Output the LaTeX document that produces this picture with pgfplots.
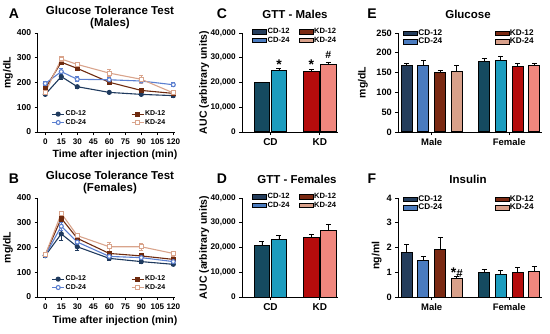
\documentclass[border=0pt]{standalone}
\usepackage{fontspec}
\setmainfont{Liberation Sans}
\usepackage{pgfplots}
\pgfplotsset{compat=1.18}
\definecolor{ca}{HTML}{243D5C}
\definecolor{cb}{HTML}{4A7BBF}
\definecolor{ka}{HTML}{7A2912}
\definecolor{kb}{HTML}{D8A08A}
\definecolor{cc}{HTML}{154A60}
\definecolor{cd}{HTML}{1C9CBE}
\definecolor{kc}{HTML}{B50C0C}
\definecolor{kd}{HTML}{F0877E}
\definecolor{la}{HTML}{1F3A5E}
\definecolor{lb}{HTML}{5B7FD0}
\definecolor{lc}{HTML}{6E2A0E}
\definecolor{ld}{HTML}{D9A48C}
\pgfplotsset{
  gp/.style={
    scale only axis, clip=false,
    axis lines=left, axis line style={-, line width=0.9pt},
    tick align=outside, major tick length=3pt,
    tick style={black, line width=0.9pt},
    ymin=0,
    /pgf/number format/assume math mode=true,
    legend columns=2,
    legend style={draw=none, fill=none, inner xsep=0pt, inner ysep=0pt, anchor=north west,
      nodes={inner sep=1pt}},
    label style={font=\bfseries\fontsize{10.5}{12}\selectfont},
  },
  linep/.style={gp, width=137.3pt, height=99pt, xmin=-7.1, xmax=121.6, ymax=400,
    xtick={0,15,...,120}, ytick={0,100,...,400},
    ticklabel style={font=\bfseries\fontsize{8.6}{10}\selectfont},
    xticklabel style={inner xsep=0pt, font=\bfseries\fontsize{8.1}{10}\selectfont},
    xlabel={Time after injection (min)}, ylabel={mg/dL},
    legend style={at={(0.1,0.225)}, font=\bfseries\fontsize{7}{7.5}\selectfont,
      /tikz/every even column/.append style={column sep=44pt}},
    legend image code/.code={\draw[mark repeat=2, mark phase=2, #1] plot coordinates {(0pt,0pt) (6pt,0pt) (12pt,0pt)};},
    every axis plot/.append style={line width=1.1pt, mark size=2pt,
      /pgfplots/error bars/error bar style={line width=0.7pt},
      /pgfplots/error bars/error mark options={rotate=90, mark size=2pt, line width=0.7pt}},
  },
  barleg/.style={legend image code/.code={\draw[#1] (0pt,-2.3pt) rectangle (14pt,2.3pt);}},
  barp/.style={ybar, bar shift=0pt, draw=black, line width=1pt, forget plot,
    /pgfplots/error bars/y dir=plus, /pgfplots/error bars/y explicit,
    /pgfplots/error bars/error bar style={line width=0.8pt, black},
    /pgfplots/error bars/error mark options={rotate=90, mark size=2.5pt, line width=0.8pt, black}},
  aucp/.style={gp, width=95.4pt, height=99pt, xmin=0.43, xmax=2.36, ymax=40000,
    xtick={1,2}, xticklabels={CD,KD}, ytick={0,10000,20000,30000,40000},
    scaled y ticks=false,
    yticklabel style={font=\bfseries\fontsize{8.2}{9}\selectfont, /pgf/number format/.cd, fixed, 1000 sep={,}},
    xticklabel style={font=\bfseries\fontsize{10}{11}\selectfont},
    ylabel={AUC (arbitrary units)},
    ylabel style={at={(axis description cs:-0.40,0.5)}, anchor=center},
    barleg, bar width=0.31,
    legend style={at={(0.10,1.06)}, font=\bfseries\fontsize{7.6}{8}\selectfont,
      /tikz/every even column/.append style={column sep=8pt}},
  },
  gip/.style={gp, width=143.4pt, height=99pt, xmin=0.569, xmax=2.419,
    xtick={1,2}, xticklabels={Male,Female},
    yticklabel style={font=\bfseries\fontsize{9.2}{10}\selectfont},
    xticklabel style={font=\bfseries\fontsize{9.5}{10}\selectfont},
    barleg, bar width=0.14,
    legend style={at={(0.033,1.04)}, font=\bfseries\fontsize{8.2}{9}\selectfont,
      nodes={inner sep=0.6pt},
      /tikz/every even column/.append style={column sep=52pt}},
  },
}
\begin{document}
\begin{tikzpicture}
\path[use as bounding box] (0,0) rectangle (550pt,333pt);
% ---------- A ----------
\begin{axis}[linep, at={(37.7pt,201pt)}, anchor=south west,
  ylabel style={at={(axis description cs:-0.216,0.6)}, anchor=center},
  xlabel style={at={(axis description cs:0.563,-0.232)}, anchor=center}]
\addplot[la, mark=*, error bars/.cd, y dir=both, y explicit] coordinates {
 (0,152) +- (0,5) (15,224) +- (0,10) (30,183) +- (0,6) (60,160) +- (0,5) (90,152) +- (0,5) (120,147) +- (0,5)};
\addlegendentry{CD-12}
\addplot[lc, mark=square*, error bars/.cd, y dir=both, y explicit] coordinates {
 (0,176) +- (0,6) (15,282) +- (0,10) (30,257) +- (0,8) (60,201) +- (0,10) (90,168) +- (0,8) (120,156) +- (0,6)};
\addlegendentry{KD-12}
\addplot[lb, mark=*, mark options={fill=white}, error bars/.cd, y dir=both, y explicit] coordinates {
 (0,196) +- (0,8) (15,244) +- (0,12) (30,213) +- (0,10) (60,211) +- (0,8) (90,206) +- (0,8) (120,191) +- (0,8)};
\addlegendentry{CD-24}
\addplot[ld, mark=square*, mark options={fill=white}, error bars/.cd, y dir=both, y explicit] coordinates {
 (0,160) +- (0,6) (15,295) +- (0,10) (30,273) +- (0,10) (60,238) +- (0,15) (90,213) +- (0,15) (120,158) +- (0,6)};
\addlegendentry{KD-24}
\end{axis}
% ---------- B ----------
\begin{axis}[linep, at={(37.7pt,36pt)}, anchor=south west,
  ylabel style={at={(axis description cs:-0.216,0.5)}, anchor=center},
  xlabel style={at={(axis description cs:0.563,-0.242)}, anchor=center}]
\addplot[la, mark=*, error bars/.cd, y dir=both, y explicit] coordinates {
 (0,167) +- (0,5) (15,255) +- (0,25) (30,203) +- (0,15) (60,156) +- (0,8) (90,143) +- (0,6) (120,132) +- (0,6)};
\addlegendentry{CD-12}
\addplot[lc, mark=square*, error bars/.cd, y dir=both, y explicit] coordinates {
 (0,170) +- (0,5) (15,318) +- (0,12) (30,237) +- (0,10) (60,176) +- (0,8) (90,166) +- (0,8) (120,152) +- (0,6)};
\addlegendentry{KD-12}
\addplot[lb, mark=*, mark options={fill=white}, error bars/.cd, y dir=both, y explicit] coordinates {
 (0,168) +- (0,5) (15,286) +- (0,15) (30,222) +- (0,10) (60,164) +- (0,8) (90,159) +- (0,8) (120,143) +- (0,6)};
\addlegendentry{CD-24}
\addplot[ld, mark=square*, mark options={fill=white}, error bars/.cd, y dir=both, y explicit] coordinates {
 (0,170) +- (0,5) (15,338) +- (0,10) (30,248) +- (0,10) (60,203) +- (0,18) (90,203) +- (0,15) (120,176) +- (0,10)};
\addlegendentry{KD-24}
\end{axis}
% ---------- C ----------
\begin{axis}[aucp, at={(242.3pt,201pt)}, anchor=south west]
\addlegendimage{fill=ca, draw=black, line width=0.6pt}\addlegendentry{CD-12}
\addlegendimage{fill=ka, draw=black, line width=0.6pt}\addlegendentry{KD-12}
\addlegendimage{fill=cb, draw=black, line width=0.6pt}\addlegendentry{CD-24}
\addlegendimage{fill=kb, draw=black, line width=0.6pt}\addlegendentry{KD-24}
\addplot[barp, fill=cc] coordinates {(0.828,19900) +- (0,300)};
\addplot[barp, fill=cd] coordinates {(1.172,25000) +- (0,700)};
\addplot[barp, fill=kc] coordinates {(1.828,24600) +- (0,800)};
\addplot[barp, fill=kd] coordinates {(2.172,27300) +- (0,900)};
\node[font=\bfseries\fontsize{14}{14}\selectfont] at (axis cs:1.172,27300) {*};
\node[font=\bfseries\fontsize{14}{14}\selectfont] at (axis cs:1.828,27000) {*};
\node[font=\bfseries\fontsize{10.5}{10.5}\selectfont] at (axis cs:2.172,31100) {\#};
\end{axis}
% ---------- D ----------
\begin{axis}[aucp, at={(242.3pt,36pt)}, anchor=south west]
\addlegendimage{fill=ca, draw=black, line width=0.6pt}\addlegendentry{CD-12}
\addlegendimage{fill=ka, draw=black, line width=0.6pt}\addlegendentry{KD-12}
\addlegendimage{fill=cb, draw=black, line width=0.6pt}\addlegendentry{CD-24}
\addlegendimage{fill=kb, draw=black, line width=0.6pt}\addlegendentry{KD-24}
\addplot[barp, fill=cc] coordinates {(0.828,20900) +- (0,1700)};
\addplot[barp, fill=cd] coordinates {(1.172,23300) +- (0,1400)};
\addplot[barp, fill=kc] coordinates {(1.828,24100) +- (0,1000)};
\addplot[barp, fill=kd] coordinates {(2.172,26700) +- (0,2800)};
\end{axis}
% ---------- E ----------
\begin{axis}[gip, at={(398.3pt,201pt)}, anchor=south west, ymax=250, ytick={0,50,...,250},
  ylabel={mg/dL}, ylabel style={at={(axis description cs:-0.246,0.5)}, anchor=center}]
\addlegendimage{fill=ca, draw=black, line width=0.6pt}\addlegendentry{CD-12}
\addlegendimage{fill=ka, draw=black, line width=0.6pt}\addlegendentry{KD-12}
\addlegendimage{fill=cb, draw=black, line width=0.6pt}\addlegendentry{CD-24}
\addlegendimage{fill=kb, draw=black, line width=0.6pt}\addlegendentry{KD-24}
\addplot[barp, fill=ca] coordinates {(0.677,169) +- (0,5)};
\addplot[barp, fill=cb] coordinates {(0.892,167.5) +- (0,14)};
\addplot[barp, fill=ka] coordinates {(1.108,149) +- (0,6)};
\addplot[barp, fill=kb] coordinates {(1.323,154) +- (0,15)};
\addplot[barp, fill=cc] coordinates {(1.677,178.5) +- (0,7)};
\addplot[barp, fill=cd] coordinates {(1.892,181) +- (0,11)};
\addplot[barp, fill=kc] coordinates {(2.108,166) +- (0,8)};
\addplot[barp, fill=kd] coordinates {(2.323,167.5) +- (0,6)};
\end{axis}
% ---------- F ----------
\begin{axis}[gip, at={(398.3pt,36pt)}, anchor=south west, ymax=4, ytick={0,1,...,4},
  ylabel={ng/ml}, ylabel style={at={(axis description cs:-0.15,0.42)}, anchor=center},
  legend style={at={(0.033,1.03)}}]
\addlegendimage{fill=ca, draw=black, line width=0.6pt}\addlegendentry{CD-12}
\addlegendimage{fill=ka, draw=black, line width=0.6pt}\addlegendentry{KD-12}
\addlegendimage{fill=cb, draw=black, line width=0.6pt}\addlegendentry{CD-24}
\addlegendimage{fill=kb, draw=black, line width=0.6pt}\addlegendentry{KD-24}
\addplot[barp, fill=ca] coordinates {(0.677,1.79) +- (0,0.35)};
\addplot[barp, fill=cb] coordinates {(0.892,1.48) +- (0,0.15)};
\addplot[barp, fill=ka] coordinates {(1.108,1.91) +- (0,0.5)};
\addplot[barp, fill=kb] coordinates {(1.323,0.73) +- (0,0.1)};
\addplot[barp, fill=cc] coordinates {(1.677,1.0) +- (0,0.13)};
\addplot[barp, fill=cd] coordinates {(1.892,0.9) +- (0,0.16)};
\addplot[barp, fill=kc] coordinates {(2.108,0.98) +- (0,0.23)};
\addplot[barp, fill=kd] coordinates {(2.323,1.02) +- (0,0.23)};
\node[font=\bfseries\fontsize{11.5}{11.5}\selectfont] at (axis cs:1.323,0.98) {{\fontsize{14}{14}\selectfont*}\#};
\end{axis}
% ---------- titles and panel letters ----------
\begin{scope}[every node/.style={font=\bfseries\fontsize{11.5}{12}\selectfont, align=center}]
\node at (110pt,315pt) {Glucose Tolerance Test\\(Males)};
\node at (110pt,150pt) {Glucose Tolerance Test\\(Females)};
\node at (295pt,319pt) {GTT - Males};
\node at (297pt,154pt) {GTT - Females};
\node at (468pt,319pt) {Glucose};
\node at (468pt,154pt) {Insulin};
\end{scope}
\begin{scope}[every node/.style={font=\bfseries\fontsize{14}{14}\selectfont}]
\node at (14pt,319pt) {A};
\node at (14pt,154pt) {B};
\node at (222pt,319pt) {C};
\node at (222pt,154pt) {D};
\node at (372pt,319pt) {E};
\node at (372pt,154pt) {F};
\end{scope}
\end{tikzpicture}
\end{document}
